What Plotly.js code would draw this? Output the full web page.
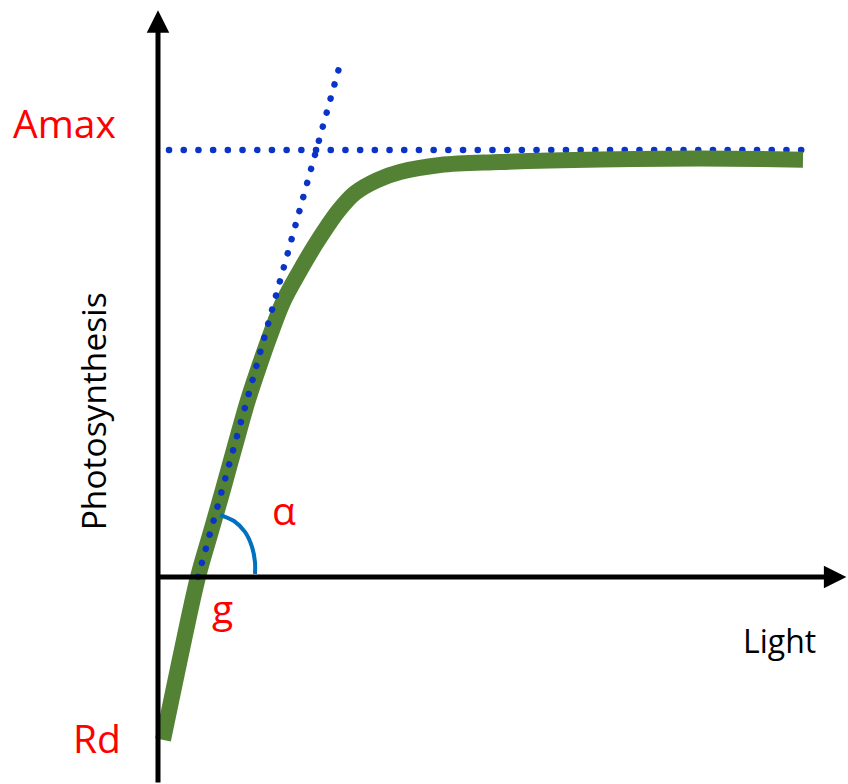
<!DOCTYPE html>
<html>
<head>
<meta charset="utf-8">
<script src="https://cdn.plot.ly/plotly-3.0.1.min.js"></script>
<style>
  html, body { margin: 0; padding: 0; background: #ffffff; }
  #chart { width: 848px; height: 784px; }
  /* dotted guide lines: zero-length dashes with round caps give round dots */
  .traceamaxGuide path.js-line,
  .traceslopeGuide path.js-line { stroke-linecap: round; }
</style>
</head>
<body>
<div id="chart"></div>
<script>
// Light-response curve of photosynthesis (arbitrary units)
const light = [7.7, 33.8, 61.5, 80.0, 98.5, 118.5, 138.5, 156.9, 173.8, 192.3, 215.4,
               244.6, 278.5, 303.1, 336.9, 372.3, 433.8, 526.2, 680.0, 833.8, 926.2, 992.3];
const photosynthesis = [-7.63, -3.84, 0.0, 1.97, 3.93, 6.14, 8.29, 9.98, 11.43, 12.88, 14.19,
                        15.69, 17.19, 17.99, 18.59, 18.97, 19.30, 19.44, 19.56, 19.60, 19.58, 19.55];

// Light-saturated rate (Amax) guide
const amaxLight = [16.9, 990.0];
const amaxLevel = [20.0, 20.0];

// Initial slope (quantum efficiency) guide
const slopeLight = [61.5, 278.5];
const slopePhoto = [0.0, 23.84];

// Angle marker for alpha
const arcLight = [95.4, 116.9, 133.8, 144.6, 149.2, 149.2];
const arcPhoto = [2.90, 2.62, 2.11, 1.41, 0.70, 0.14];

// Axis extents
const xRange = [-243.08, 1061.54];
const yRange = [-9.70, 27.03];

const RED = '#ff0000';
const BLUE_DOT = '#0a34c8';
const FONT = 'Open Sans, Noto Sans, sans-serif';

const traces = [
  {
    x: amaxLight, y: amaxLevel, type: 'scatter', mode: 'lines', uid: 'amaxGuide',
    line: { color: BLUE_DOT, width: 6.5, dash: '0.1px,14.6px' }, hoverinfo: 'skip'
  },
  {
    x: light, y: photosynthesis, type: 'scatter', mode: 'lines', uid: 'curve',
    line: { color: '#548235', width: 16, shape: 'spline', smoothing: 1 }, hoverinfo: 'skip'
  },
  {
    x: slopeLight, y: slopePhoto, type: 'scatter', mode: 'lines', uid: 'slopeGuide',
    line: { color: BLUE_DOT, width: 6.5, dash: '0.1px,14.5px' }, hoverinfo: 'skip'
  },
  {
    x: arcLight, y: arcPhoto, type: 'scatter', mode: 'lines', uid: 'alphaArc',
    line: { color: '#0070c0', width: 4, shape: 'spline' }, hoverinfo: 'skip'
  }
];

function label(text, x, y, size, color, angle) {
  return {
    text: text, x: x, y: y, xref: 'x', yref: 'y', showarrow: false,
    xanchor: 'center', yanchor: 'middle', textangle: angle || 0,
    font: { family: FONT, size: size, color: color }
  };
}

const annotations = [
  // vertical axis with arrow
  { x: 0, y: 26.55, ax: 0, ay: yRange[0], xref: 'x', yref: 'y', axref: 'x', ayref: 'y',
    text: '', showarrow: true, arrowhead: 2, arrowsize: 0.9, arrowwidth: 5, arrowcolor: '#000000' },
  // horizontal axis with arrow
  { x: 1059, y: 0, ax: -2.5, ay: 0, xref: 'x', yref: 'y', axref: 'x', ayref: 'y',
    text: '', showarrow: true, arrowhead: 2, arrowsize: 0.9, arrowwidth: 5, arrowcolor: '#000000' },
  label('Amax', -143.1, 21.3, 39, RED),
  label('Rd', -93.8, -7.5, 39, RED),
  label('g', 98.5, -1.45, 39, RED),
  label('α', 193.8, 3.14, 39, RED),
  label('Light', 956.9, -2.98, 32, '#000000'),
  label('Photosynthesis', -100.9, 7.78, 33.5, '#000000', -90)
];

const layout = {
  width: 848, height: 784,
  margin: { l: 0, r: 0, t: 0, b: 0 },
  paper_bgcolor: '#ffffff', plot_bgcolor: '#ffffff',
  showlegend: false,
  xaxis: { range: xRange, visible: false, fixedrange: true },
  yaxis: { range: yRange, visible: false, fixedrange: true },
  annotations: annotations
};

Plotly.newPlot('chart', traces, layout, { staticPlot: true, displayModeBar: false });
</script>
</body>
</html>
